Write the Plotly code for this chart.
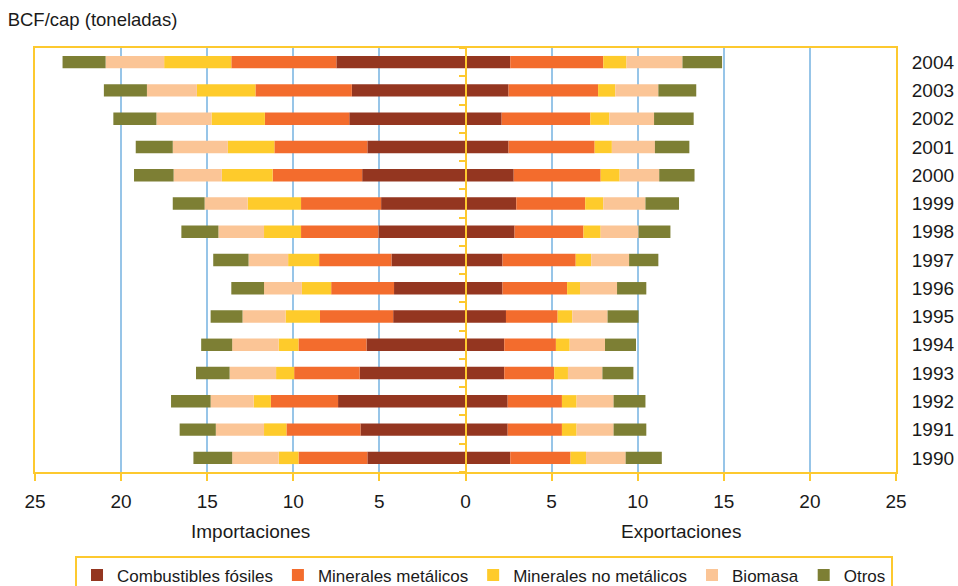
import plotly.graph_objects as go

# Material flows per capita (tonnes), 1990-2004
years = [str(y) for y in range(1990, 2005)]

categories = ["Combustibles fósiles", "Minerales metálicos",
              "Minerales no metálicos", "Biomasa", "Otros"]

# Imports (drawn to the left of zero)
imp_fosiles = [5.7, 6.1, 7.4, 6.15, 5.75, 4.2, 4.15, 4.3, 5.05, 4.9, 6.0, 5.7, 6.75, 6.6, 7.5]
imp_metalicos = [4.0, 4.3, 3.9, 3.8, 3.95, 4.25, 3.65, 4.2, 4.5, 4.65, 5.2, 5.4, 4.9, 5.6, 6.1]
imp_no_metalicos = [1.15, 1.3, 1.0, 1.05, 1.15, 2.0, 1.7, 1.8, 2.15, 3.1, 2.95, 2.7, 3.1, 3.4, 3.9]
imp_biomasa = [2.7, 2.8, 2.5, 2.7, 2.7, 2.5, 2.2, 2.3, 2.65, 2.5, 2.8, 3.2, 3.2, 2.9, 3.4]
imp_otros = [2.25, 2.1, 2.3, 1.95, 1.8, 1.85, 1.9, 2.05, 2.15, 1.85, 2.3, 2.15, 2.5, 2.5, 2.5]

# Exports (drawn to the right of zero)
exp_fosiles = [2.6, 2.45, 2.45, 2.25, 2.25, 2.35, 2.15, 2.15, 2.85, 2.95, 2.8, 2.5, 2.1, 2.5, 2.6]
exp_metalicos = [3.5, 3.15, 3.15, 2.9, 3.0, 3.0, 3.75, 4.25, 4.0, 4.0, 5.05, 5.0, 5.15, 5.2, 5.4]
exp_no_metalicos = [0.9, 0.85, 0.85, 0.8, 0.8, 0.85, 0.75, 0.9, 1.0, 1.05, 1.1, 1.0, 1.1, 1.0, 1.35]
exp_biomasa = [2.3, 2.15, 2.15, 2.0, 2.05, 2.05, 2.15, 2.2, 2.2, 2.45, 2.3, 2.5, 2.6, 2.5, 3.25]
exp_otros = [2.1, 1.9, 1.85, 1.8, 1.8, 1.8, 1.7, 1.7, 1.85, 1.95, 2.05, 2.0, 2.3, 2.2, 2.3]

tick_values = [-25, -20, -15, -10, -5, 0, 5, 10, 15, 20, 25]
tick_labels = [str(abs(v)) for v in tick_values]

colors = ["#943620", "#F36C2D", "#FECB2B", "#FBC596", "#7D7F34"]
GOLD = "#FDC92F"
GRID = "#97C5E8"
FONT = "Liberation Sans, Arial, sans-serif"
TEXT = "#1a1a1a"

imports = [imp_fosiles, imp_metalicos, imp_no_metalicos, imp_biomasa, imp_otros]
exports = [exp_fosiles, exp_metalicos, exp_no_metalicos, exp_biomasa, exp_otros]

fig = go.Figure()

for name, color, imp, exp in zip(categories, colors, imports, exports):
    fig.add_trace(go.Bar(
        y=years, x=[-v for v in imp], orientation="h", name=name,
        marker=dict(color=color, line=dict(width=0)),
        legendgroup=name, showlegend=True,
        customdata=imp, hovertemplate="%{y}: %{customdata}<extra>" + name + "</extra>",
    ))
    fig.add_trace(go.Bar(
        y=years, x=exp, orientation="h", name=name,
        marker=dict(color=color, line=dict(width=0)),
        legendgroup=name, showlegend=False,
        hovertemplate="%{y}: %{x}<extra>" + name + "</extra>",
    ))

# Invisible helper trace so the central category axis (at zero) is drawn
fig.add_trace(go.Scatter(
    x=[0] * len(years), y=years, yaxis="y2", mode="none",
    showlegend=False, hoverinfo="skip",
))

fig.update_layout(
    width=958, height=586,
    margin=dict(l=35, r=62, t=48, b=114, autoexpand=False),
    paper_bgcolor="white", plot_bgcolor="white",
    barmode="relative", bargap=0.56,
    font=dict(family=FONT, size=19, color=TEXT),
    title=dict(text="BCF/cap (toneladas)", x=0.008, xanchor="left",
               y=1 - 20 / 586, yanchor="middle", xref="container", yref="container",
               font=dict(family=FONT, size=18.5, color=TEXT)),
    xaxis=dict(
        range=[-25, 25], tickvals=tick_values, ticktext=tick_labels,
        showgrid=True, gridcolor=GRID, gridwidth=2, zeroline=False,
        showline=True, linecolor=GOLD, linewidth=2, mirror=True,
        ticks="outside", ticklen=7, tickwidth=2, tickcolor=GOLD,
        ticklabelstandoff=4,
        tickfont=dict(family=FONT, size=19, color=TEXT),
        fixedrange=True,
    ),
    yaxis=dict(
        type="category", categoryorder="array", categoryarray=years,
        side="right", showgrid=False, zeroline=False,
        showline=True, linecolor=GOLD, linewidth=2, mirror=True,
        ticks="", ticklabelstandoff=10,
        tickfont=dict(family=FONT, size=19, color=TEXT),
        fixedrange=True,
    ),
    yaxis2=dict(
        type="category", categoryorder="array", categoryarray=years,
        overlaying="y", anchor="free", position=0.5, side="left",
        range=[-0.5, len(years) - 0.5],
        showgrid=False, zeroline=False, showticklabels=False,
        showline=True, linecolor=GOLD, linewidth=2,
        ticks="outside", tickson="boundaries", ticklen=6, tickwidth=2, tickcolor=GOLD,
        fixedrange=True,
    ),
    legend=dict(
        orientation="h", x=0.5215, xanchor="center", y=-0.197, yanchor="top",
        bordercolor=GOLD, borderwidth=2, bgcolor="white",
        font=dict(family=FONT, size=17, color=TEXT),
        itemwidth=30, traceorder="normal",
    ),
    annotations=[
        dict(text="Importaciones", x=-12.5, xref="x", y=-0.1415, yref="paper",
             xanchor="center", yanchor="middle", showarrow=False,
             font=dict(family=FONT, size=19, color=TEXT)),
        dict(text="Exportaciones", x=12.5, xref="x", y=-0.1415, yref="paper",
             xanchor="center", yanchor="middle", showarrow=False,
             font=dict(family=FONT, size=19, color=TEXT)),
    ],
)

fig.write_html("out.html")
